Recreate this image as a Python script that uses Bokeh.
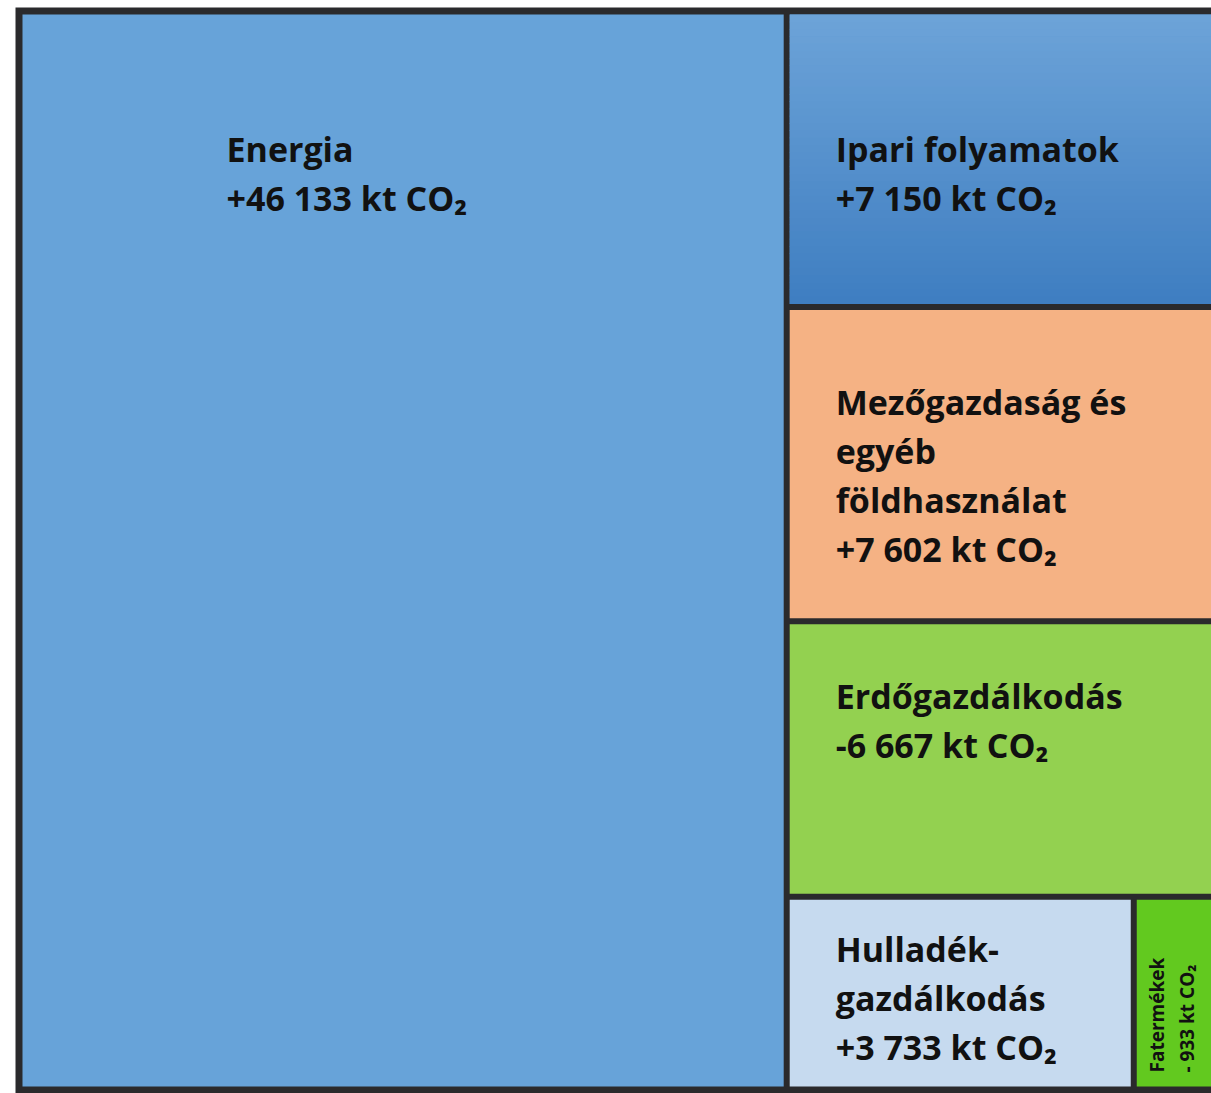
import math
from bokeh.plotting import figure
from bokeh.models import Range1d, ColumnDataSource
from bokeh.embed import file_html
from bokeh.resources import INLINE
from bokeh.core.properties import value

# ---------------- data ----------------
categories = ["Energia", "Ipari folyamatok", "Mezőgazdaság és egyéb földhasználat",
              "Erdőgazdálkodás", "Hulladékgazdálkodás", "Fatermékek"]
values_kt = [46133, 7150, 7602, -6667, 3733, -933]
label_lines = [
    ["Energia", "+46 133 kt CO₂"],
    ["Ipari folyamatok", "+7 150 kt CO₂"],
    ["Mezőgazdaság és", "egyéb", "földhasználat", "+7 602 kt CO₂"],
    ["Erdőgazdálkodás", "-6 667 kt CO₂"],
    ["Hulladék-", "gazdálkodás", "+3 733 kt CO₂"],
    ["Fatermékek", "- 933 kt CO₂"],
]
colors = ["#67a3d9", "#5b95d0", "#f5b284", "#93d150", "#c6daef", "#62c91f"]

# ---------------- styling / layout constants ----------------
W, H = 1211, 1093
BOX = (19, 11, 1220, 1089)      # x0, y0(top), x1, y1(bottom) in screen-like units
GAP = 3                          # half divider width
EDGE = 4                         # extra outer border
DARK = "#2a2a2c"
FONT = value("Open Sans")
FS = "34px"
LINE_H = 49
# label placement: (x offset px from cell left, first-line y as fraction of cell height)
label_pos = [(204, 0.125), (46, 0.465), (46, 0.30), (46, 0.265), (46, 0.265)]

sizes = [abs(v) for v in values_kt]
total = sum(sizes)
x0, y0, x1, y1 = BOX

# slice-and-dice treemap
cells = []
xe = x0 + (x1 - x0) * sizes[0] / total
cells.append((x0, y0, xe, y1))
right = sizes[1:4] + [sizes[4] + sizes[5]]
rsum = sum(right)
cy = y0
rows = []
for s in right:
    h = (y1 - y0) * s / rsum
    rows.append((xe, cy, x1, cy + h))
    cy += h
cells.extend(rows[:3])
bx0, by0, bx1, by1 = rows[3]
xh = bx0 + (bx1 - bx0) * sizes[4] / (sizes[4] + sizes[5])
cells.append((bx0, by0, xh, by1))
cells.append((xh, by0, bx1, by1))

p = figure(width=W, height=H, output_backend="svg", toolbar_location=None,
           x_range=Range1d(0, W), y_range=Range1d(H, 0), min_border=0,
           background_fill_color="white", border_fill_color="white")
p.axis.visible = False
p.grid.visible = False
p.outline_line_color = None

# dark frame background
p.quad(left=[x0 - EDGE], right=[x1 + EDGE], top=[y0 - EDGE], bottom=[y1 + EDGE],
       fill_color=DARK, line_color=None)

src = ColumnDataSource(dict(
    left=[c[0] + GAP for c in cells], right=[c[2] - GAP for c in cells],
    top=[c[1] + GAP for c in cells], bottom=[c[3] - GAP for c in cells],
    color=colors, name=categories, val=values_kt))
p.quad(left="left", right="right", top="top", bottom="bottom",
       fill_color="color", line_color=None, source=src)

# vertical colour gradient in the "Ipari folyamatok" cell
c = cells[1]
top_c, bot_c = (0x6c, 0xa3, 0xd8), (0x3f, 0x7e, 0xc1)
n = 40
l, r = c[0] + GAP, c[2] - GAP
t, b = c[1] + GAP, c[3] - GAP
st = [t + (b - t) * i / n for i in range(n)]
sb = [t + (b - t) * (i + 1) / n + 0.6 for i in range(n)]
sb[-1] = b
scol = []
for i in range(n):
    f = i / (n - 1)
    rgb = tuple(int(round(top_c[k] + (bot_c[k] - top_c[k]) * f)) for k in range(3))
    scol.append("#%02x%02x%02x" % rgb)
p.quad(left=[l] * n, right=[r] * n, top=st, bottom=sb, fill_color=scol, line_color=None)

# horizontal labels
tx, ty, tt = [], [], []
for i in range(5):
    cl, ct, cr, cb = cells[i]
    ox, fy = label_pos[i]
    lx = cl + GAP + ox
    ly = ct + GAP + (cb - ct - 2 * GAP) * fy
    for j, line in enumerate(label_lines[i]):
        tx.append(lx)
        ty.append(ly + j * LINE_H)
        tt.append(line)
p.text(x=tx, y=ty, text=tt, text_font=FONT, text_font_style="bold",
       text_font_size=FS, text_color="#111111", text_align="left",
       text_baseline="middle")

# rotated label for the small cell
cl, ct, cr, cb = cells[5]
vx = [cl + GAP + 20, cl + GAP + 50]
vy = [cb - GAP - 14, cb - GAP - 14]
p.text(x=vx, y=vy, text=label_lines[5], angle=math.pi / 2, text_font=FONT,
       text_font_style="bold", text_font_size="19px", text_color="#111111",
       text_align="left", text_baseline="middle")

open("out.html", "w").write(file_html(p, INLINE))
